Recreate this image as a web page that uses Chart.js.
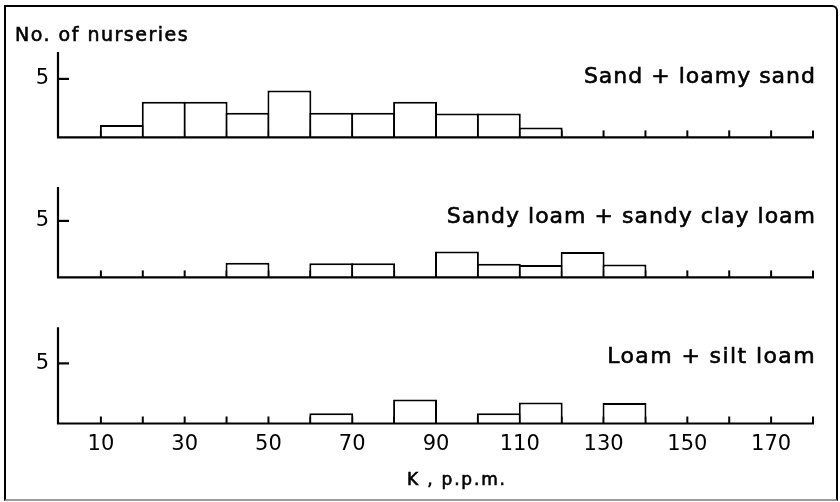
<!DOCTYPE html>
<html><head><meta charset="utf-8">
<script src="https://cdn.jsdelivr.net/npm/chart.js@4"></script>
<style>
html,body{margin:0;padding:0;background:#fff;}
#wrap{position:relative;width:840px;height:502px;overflow:hidden;background:#fff;}
#frame{position:absolute;left:4px;top:5px;width:834px;height:496px;box-sizing:border-box;border:2px solid #000;border-bottom-color:#9a9a9a;border-top-right-radius:6px;}
canvas{position:absolute;left:0;}
</style></head><body>
<div id="wrap"><div id="frame"></div>
<canvas id="c1" width="840" height="160" style="top:0px"></canvas>
<canvas id="c2" width="840" height="140" style="top:160px"></canvas>
<canvas id="c3" width="840" height="202" style="top:300px"></canvas>
</div>
<script>
// K (p.p.m.) class lower edges, 10 p.p.m. wide classes
const binStarts = [0,10,20,30,40,50,60,70,80,90,100,110,120,130,140,150,160,170];
// number of nurseries per class
const sandCounts      = [0,1.05,3.05,3.05,2.1,4.0,2.1,2.1,3.05,2.05,2.05,0.85,0,0,0,0,0,0];
const sandyLoamCounts = [0,0,0,0,1.3,0,1.25,1.25,0,2.3,1.2,1.1,2.25,1.15,0,0,0,0];
const loamCounts      = [0,0,0,0,0,0,0.85,0,2.0,0,0.85,1.75,0,1.7,0,0,0,0];
const xTickLabels = [10,30,50,70,90,110,130,150,170];
const yTickValues = [5];
const panelTitles = ['Sand + loamy sand','Sandy loam + sandy clay loam','Loam + silt loam'];
const yAxisTitle = 'No. of nurseries';
const xAxisTitle = 'K , p.p.m.';

const FONT = '"DejaVu Sans", "Noto Sans", sans-serif';

const decor = {
  id: 'decor',
  beforeDatasetsDraw(chart) {
    const {ctx, chartArea: a, scales: {x}} = chart;
    ctx.save();
    ctx.strokeStyle = '#000'; ctx.lineWidth = 2;
    x.ticks.forEach(t => {
      if (t.value <= 0) return;
      const px = x.getPixelForValue(t.value);
      ctx.beginPath(); ctx.moveTo(px, a.bottom); ctx.lineTo(px, a.bottom - 7); ctx.stroke();
    });
    ctx.restore();
  },
  afterDatasetsDraw(chart, args, o) {
    const {ctx, chartArea: a, scales: {x, y}} = chart;
    ctx.save();
    ctx.strokeStyle = '#000'; ctx.lineWidth = 2.2;
    // axes
    ctx.beginPath();
    ctx.moveTo(a.left - 1, a.top); ctx.lineTo(a.left - 1, a.bottom);
    ctx.lineTo(a.right + 1, a.bottom);
    ctx.stroke();
    // y tick marks (inward)
    y.ticks.forEach(t => {
      const py = y.getPixelForValue(t.value);
      ctx.beginPath(); ctx.moveTo(a.left - 1, py); ctx.lineTo(a.left + 10, py); ctx.stroke();
    });
    ctx.fillStyle = '#000';
    ctx.lineWidth = 0.6;
    (o.texts || []).forEach(tx => {
      ctx.font = tx.size + 'px ' + FONT;
      ctx.letterSpacing = tx.spacing + 'px';
      ctx.textAlign = tx.align;
      ctx.textBaseline = 'alphabetic';
      ctx.fillText(tx.text, tx.x, tx.y);
      ctx.strokeText(tx.text, tx.x, tx.y);
    });
    ctx.letterSpacing = '0px';
    ctx.restore();
  }
};

function makeChart(id, counts, cfg) {
  return new Chart(document.getElementById(id), {
    type: 'bar',
    data: {
      datasets: [{
        data: binStarts.map((b, i) => ({x: b + 5, y: counts[i] > 0 ? counts[i] : null})),
        backgroundColor: '#fff',
        borderColor: '#000',
        borderWidth: 2,
        borderSkipped: 'start',
        barPercentage: 1.048,
        categoryPercentage: 1,
        inflateAmount: 0
      }]
    },
    options: {
      responsive: false,
      animation: false,
      events: [],
      layout: {padding: {left: 0, right: 27, top: cfg.top, bottom: 0}},
      plugins: {
        legend: {display: false},
        tooltip: {enabled: false},
        decor: {texts: cfg.texts}
      },
      scales: {
        x: {
          type: 'linear', min: 0, max: 180, offset: false,
          grid: {display: false, drawTicks: false, offset: false},
          border: {display: false},
          ticks: {
            display: cfg.showLabels, stepSize: 10, autoSkip: false, maxRotation: 0,
            padding: 8, color: '#000', font: {family: FONT, size: 21},
            callback: v => xTickLabels.includes(v) ? String(v) : ''
          },
          afterFit: s => { s.height = cfg.xh; }
        },
        y: {
          min: 0, max: cfg.ymax,
          grid: {display: false, drawTicks: false},
          border: {display: false},
          afterBuildTicks: s => { s.ticks = yTickValues.map(v => ({value: v})); },
          ticks: {padding: 10, color: '#000', font: {family: FONT, size: 21}},
          afterFit: s => { s.width = 59; }
        }
      }
    },
    plugins: [decor]
  });
}

makeChart('c1', sandCounts, {top: 52, xh: 18.5, ymax: 7.3, showLabels: false, texts: [
  {text: yAxisTitle, x: 15, y: 40.5, size: 19, spacing: 1.5, align: 'left'},
  {text: panelTitles[0], x: 816, y: 82.5, size: 22, spacing: 1, align: 'right'}
]});
makeChart('c2', sandyLoamCounts, {top: 27, xh: 15.5, ymax: 8, showLabels: false, texts: [
  {text: panelTitles[1], x: 816, y: 63, size: 22, spacing: 1, align: 'right'}
]});
makeChart('c3', loamCounts, {top: 27.3, xh: 78.5, ymax: 8, showLabels: true, texts: [
  {text: panelTitles[2], x: 816, y: 63, size: 22, spacing: 1.4, align: 'right'},
  {text: xAxisTitle, x: 407, y: 185, size: 17, spacing: 1.8, align: 'left'}
]});
</script>
</body></html>
